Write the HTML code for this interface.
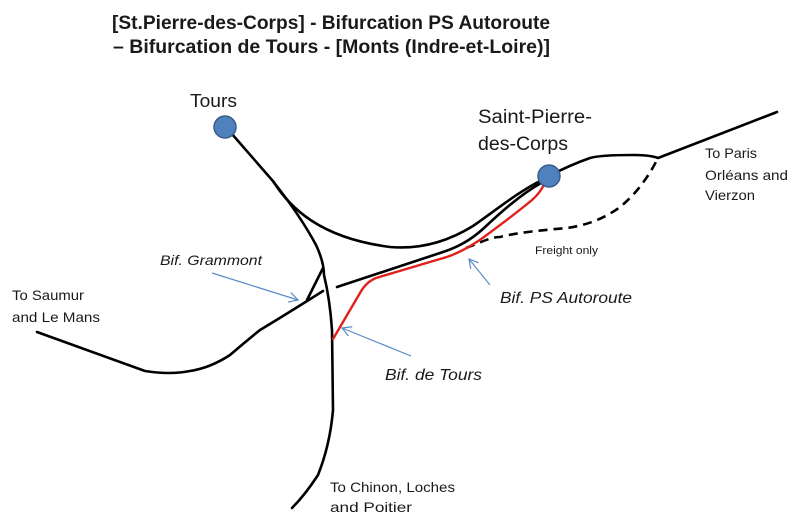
<!DOCTYPE html>
<html>
<head>
<meta charset="utf-8">
<style>
  html,body{margin:0;padding:0;background:#fff;}
  svg{display:block;}
  text{font-family:"Liberation Sans",sans-serif;fill:#1a1a1a;}
</style>
</head>
<body>
<svg width="800" height="522" viewBox="0 0 800 522" xmlns="http://www.w3.org/2000/svg">
  <defs>
    <marker id="ah" markerWidth="12" markerHeight="12" refX="10" refY="6" orient="auto" markerUnits="userSpaceOnUse">
      <polyline points="1,1 10,6 1,11" fill="none" stroke="#5b8bc7" stroke-width="1.2"/>
    </marker>
  </defs>

  <!-- Title -->
  <text x="112" y="29" font-size="19" font-weight="bold" fill="#000" textLength="438" lengthAdjust="spacingAndGlyphs">[St.Pierre-des-Corps] - Bifurcation PS Autoroute</text>
  <text x="113" y="53" font-size="19" font-weight="bold" fill="#000" textLength="437" lengthAdjust="spacingAndGlyphs">– Bifurcation de Tours - [Monts (Indre-et-Loire)]</text>

  <g fill="none" stroke="#000" stroke-width="2.6" stroke-linecap="round" stroke-linejoin="round">
    <!-- Main N-S line from Tours -->
    <path d="M232,134 L272,180 Q300,215 316,245 Q324,262 324,275 Q330,300 332,330 L333,410 Q330,445 318,475 Q305,495 292,508"/>
    <!-- Branch from Tours line to Saint-Pierre (top) -->
    <path d="M273,181 C290,208 320,238 390,247 C425,250 452,239 473,226 C495,211 515,194 540,181"/>
    <!-- Saumur line -->
    <path d="M37,332 L145,371 Q170,375 190,371 Q210,368 230,355 Q245,342 260,330 Q285,315 323,291"/>
    <!-- small branch from vertical to Saumur line -->
    <path d="M323,268 Q316,282 307,300"/>
    <!-- Middle line to Saint-Pierre -->
    <path d="M337,287 L440,253 C456,248 470,241 484,228 C500,213 520,195 541,183"/>
    <!-- East line -->
    <path d="M549,176 Q570,165 590,158 Q600,155 633,155 Q650,155 658,158 L777,112"/>
    <!-- Dashed freight -->
    <path d="M466,248 C480,243 490,237 500,237 C520,232 545,230 567,228 C590,225 608,216 620,207 C635,195 648,178 658,158" stroke-dasharray="9,6" stroke-linecap="butt"/>
  </g>

  <!-- Red line -->
  <path d="M333,339 L360,293 Q366,282 376,278 L440,259 C456,255 470,247 484,237 C503,223 520,210 532,200 Q541,192 544,184" fill="none" stroke="#e0201b" stroke-width="2.4" stroke-linecap="round" stroke-linejoin="round"/>

  <!-- Stations -->
  <circle cx="225" cy="127" r="11" fill="#4f81bd" stroke="#385d8a" stroke-width="1.5"/>
  <circle cx="549" cy="176" r="11" fill="#4f81bd" stroke="#385d8a" stroke-width="1.5"/>

  <!-- Arrows -->
  <g stroke="#5b8bc7" stroke-width="1.2" fill="none">
    <line x1="212" y1="273" x2="298" y2="300" marker-end="url(#ah)"/>
    <line x1="490" y1="285" x2="469" y2="259" marker-end="url(#ah)"/>
    <line x1="411" y1="356" x2="342" y2="328" marker-end="url(#ah)"/>
  </g>

  <!-- Labels -->
  <text x="190" y="107" font-size="18" textLength="47" lengthAdjust="spacingAndGlyphs">Tours</text>
  <text x="478" y="123" font-size="19" textLength="114" lengthAdjust="spacingAndGlyphs">Saint-Pierre-</text>
  <text x="478" y="150" font-size="19" textLength="90" lengthAdjust="spacingAndGlyphs">des-Corps</text>

  <text x="705" y="158" font-size="14" textLength="52" lengthAdjust="spacingAndGlyphs">To Paris</text>
  <text x="705" y="180" font-size="14" textLength="83" lengthAdjust="spacingAndGlyphs">Orléans and</text>
  <text x="705" y="200" font-size="14" textLength="50" lengthAdjust="spacingAndGlyphs">Vierzon</text>

  <text x="12" y="300" font-size="14" textLength="72" lengthAdjust="spacingAndGlyphs">To Saumur</text>
  <text x="12" y="322" font-size="14" textLength="88" lengthAdjust="spacingAndGlyphs">and Le Mans</text>

  <text x="330" y="492" font-size="14" textLength="125" lengthAdjust="spacingAndGlyphs">To Chinon, Loches</text>
  <text x="330" y="512" font-size="14" textLength="82" lengthAdjust="spacingAndGlyphs">and Poitier</text>

  <text x="160" y="265" font-size="14" font-style="italic" textLength="102" lengthAdjust="spacingAndGlyphs">Bif. Grammont</text>
  <text x="500" y="303" font-size="16" font-style="italic" textLength="132" lengthAdjust="spacingAndGlyphs">Bif. PS Autoroute</text>
  <text x="385" y="380" font-size="16" font-style="italic" textLength="97" lengthAdjust="spacingAndGlyphs">Bif. de Tours</text>
  <text x="535" y="254" font-size="11" textLength="63" lengthAdjust="spacingAndGlyphs">Freight only</text>
</svg>
</body>
</html>
